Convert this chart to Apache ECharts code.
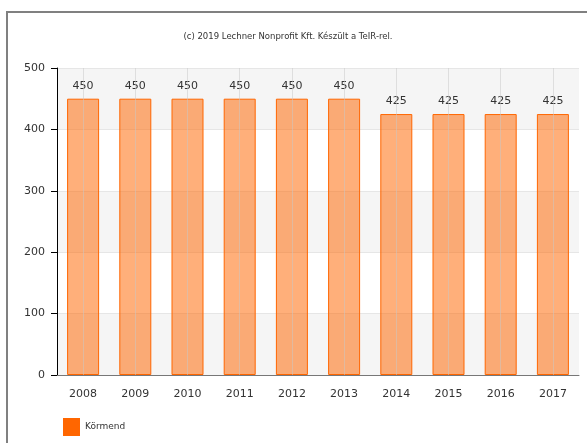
<!DOCTYPE html>
<html>
<head>
<meta charset="utf-8">
<script src="https://cdn.jsdelivr.net/npm/echarts@6/dist/echarts.min.js"></script>
<style>
  html, body { margin: 0; padding: 0; background: #fff; }
  #frame { position: absolute; left: 6px; top: 11px; width: 600px; height: 460px;
           border-left: 2px solid #808080; border-top: 2px solid #808080; }
  #chart { position: absolute; left: 0; top: 0; width: 587px; height: 443px; }
</style>
</head>
<body>
<div id="frame"></div>
<div id="chart"></div>
<script>
const years = ["2008", "2009", "2010", "2011", "2012", "2013", "2014", "2015", "2016", "2017"];
const values = [450, 450, 450, 450, 450, 450, 425, 425, 425, 425];
const yTicks = [0, 100, 200, 300, 400, 500];
const seriesName = "Körmend";
const font = "DejaVu Sans";

var myChart = echarts.init(document.getElementById("chart"));

var option = {
  animation: false,
  textStyle: { fontFamily: font },
  title: {
    text: "(c) 2019 Lechner Nonprofit Kft. Készült a TeIR-rel.",
    left: 283,
    textAlign: "center",
    top: 27,
    textStyle: { fontSize: 8.5, fontWeight: "normal", color: "#333", fontFamily: font },
  },
  legend: {
    left: 58,
    top: 413,
    itemWidth: 17,
    itemHeight: 18,
    icon: "rect",
    itemGap: 5,
    data: [{ name: seriesName, itemStyle: { color: "#ff6600", borderWidth: 0 } }],
    textStyle: { fontSize: 9, color: "#333", fontFamily: font },
  },
  grid: { left: 57, right: 8, top: 68, bottom: 68, containLabel: false },
  xAxis: {
    type: "category",
    data: years,
    axisLine: { lineStyle: { color: "#777", width: 1 } },
    axisTick: { alignWithLabel: true, length: 6, lineStyle: { color: "#000" } },
    axisLabel: { color: "#333", fontSize: 11, margin: 14 },
    splitLine: { show: false },
  },
  yAxis: {
    type: "value",
    min: yTicks[0],
    max: yTicks[yTicks.length - 1],
    interval: 100,
    axisLine: { show: true, lineStyle: { color: "#000" } },
    axisTick: { show: true, length: 6, lineStyle: { color: "#000" } },
    axisLabel: { color: "#333", fontSize: 11, margin: 12 },
    splitLine: { lineStyle: { color: "#e6e6e6" } },
    splitArea: { show: true, areaStyle: { color: ["#f5f5f5", "#ffffff"] } },
  },
  series: [
    {
      name: seriesName,
      type: "bar",
      data: values,
      barWidth: 32,
      itemStyle: { color: "rgba(255,102,0,0.52)", borderColor: "#ff6600", borderWidth: 1 },
      label: { show: true, position: "top", distance: 7, color: "#333", fontSize: 11 },
      markLine: {
        silent: true,
        symbol: "none",
        label: { show: false },
        lineStyle: { color: "rgba(200,200,200,0.5)", type: "solid", width: 1 },
        data: years.map((y) => ({ xAxis: y })),
      },
    },
  ],
};

myChart.setOption(option);
</script>
</body>
</html>
